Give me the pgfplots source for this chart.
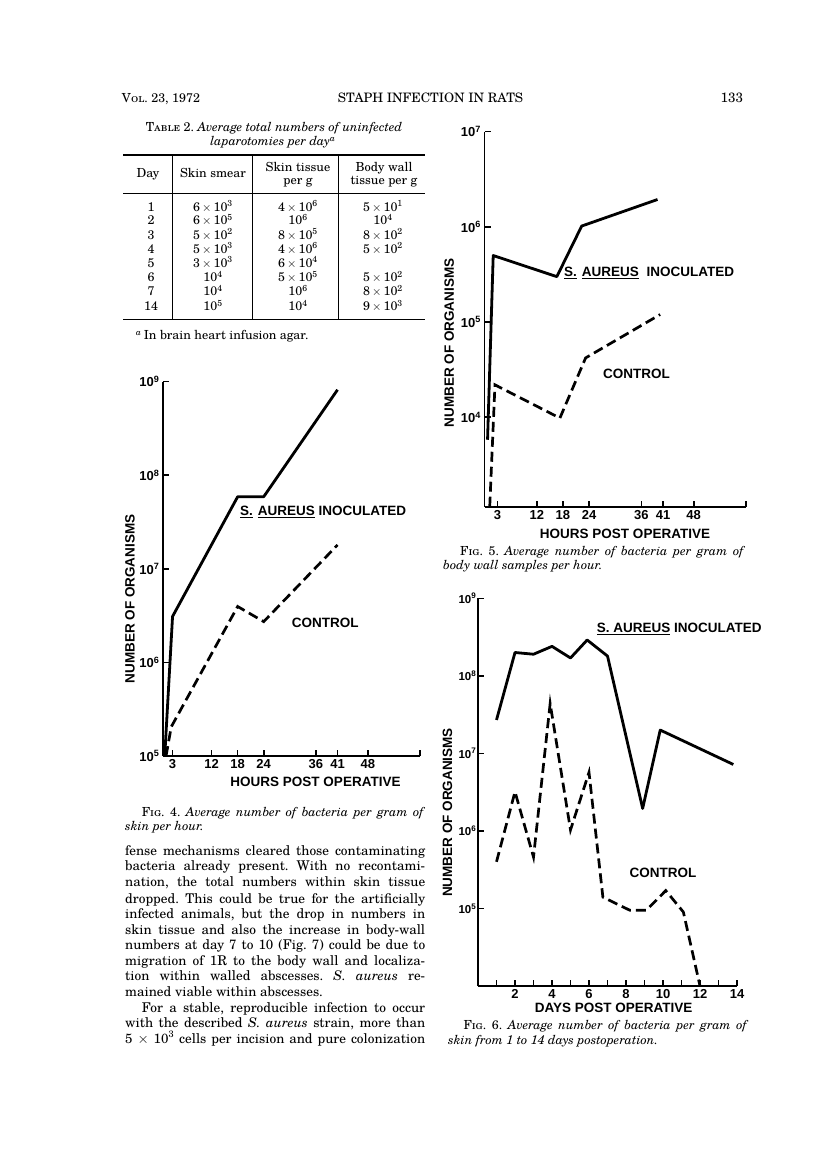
\documentclass[border=0pt]{standalone}
\usepackage{fontspec}
\setmainfont{TeX Gyre Schola}
\newfontfamily\lab{Liberation Sans}
\usepackage{pgfplots}
\pgfplotsset{compat=1.18}
\pgfplotsset{
  figax/.style={
    scale only axis, clip=false,
    axis x line*=bottom, axis y line*=left,
    axis line style={line width=1.8pt},
    every tick/.style={line width=1.6pt, black},
    major tick length=6pt,
    tick align=inside,
    yminorticks=false, xminorticks=false,
    tick label style={font=\lab\bfseries\fontsize{13}{13}\selectfont},
  },
  solidser/.style={black, line width=2.8pt, line join=round, no marks},
  dashser/.style={black, line width=2.7pt, dash pattern=on 10pt off 5pt, no marks},
}
\newcommand{\lblf}{\lab\bfseries\fontsize{13.5}{13.5}\selectfont}
\newcommand{\bodyf}{\fontsize{13.4}{15}\selectfont}
\newcommand{\capf}{\fontsize{12.5}{14}\selectfont}
\newcommand{\tabf}{\fontsize{12.5}{13}\selectfont}
\newcommand{\tx}[2]{#1\,$\times$\,10\textsuperscript{#2}}
\newcommand{\tp}[1]{10\textsuperscript{#1}}
\frenchspacing
\begin{document}
\frenchspacing
\begin{tikzpicture}
\path[use as bounding box, fill=white] (0pt,0pt) rectangle (816pt,-1172pt);

% ---------- Fig. 4 ----------
\begin{semilogyaxis}[figax, at={(163pt,-756pt)}, anchor=south west, width=257pt, height=374.3pt,
  xmin=0.8, xmax=60, ymin=1e5, ymax=1e9,
  xtick={3,12,18,24,36,41,48,60}, xticklabels={3,12,18,24,36,41,48,{}},
  ytick={1e5,1e6,1e7,1e8,1e9},
  yticklabels={10\textsuperscript{5},10\textsuperscript{6},10\textsuperscript{7},10\textsuperscript{8},10\textsuperscript{9}}]
\addplot[solidser] coordinates {(1.2,1e5)(3,3.1e6)(18,5.9e7)(24,5.9e7)(41,8.2e8)};
\addplot[dashser] coordinates {(1.5,1e5)(2.7,2.05e5)(18,3.96e6)(24,2.73e6)(41,1.8e7)};
\end{semilogyaxis}

% ---------- Fig. 5 ----------
\begin{semilogyaxis}[figax, at={(484.5pt,-506.7pt)}, anchor=south west, width=261.5pt, height=375pt,
  xmin=0, xmax=60, ymin=1148, ymax=1e7,
  xtick={3,12,18,24,36,41,48,60}, xticklabels={3,12,18,24,36,41,48,{}},
  ytick={1e4,1e5,1e6,1e7},
  yticklabels={10\textsuperscript{4},10\textsuperscript{5},10\textsuperscript{6},10\textsuperscript{7}}]
\addplot[solidser] coordinates {(0.7,5.8e3)(2.0,5.0e5)(16.6,3.0e5)(22.3,1.02e6)(39.7,1.94e6)};
\addplot[dashser] coordinates {(1.2,1148)(2.4,2.19e4)(17.3,9.8e3)(23.2,4.2e4)(40.3,1.2e5)};
\end{semilogyaxis}

% ---------- Fig. 6 ----------
\begin{semilogyaxis}[figax, at={(478pt,-986pt)}, anchor=south west, width=259pt, height=387.7pt,
  xmin=0, xmax=14, ymin=1e4, ymax=1e9,
  xtick={1,...,14}, xticklabels={{},2,{},4,{},6,{},8,{},10,{},12,{},14},
  ytick={1e5,1e6,1e7,1e8,1e9},
  yticklabel style={font=\lab\bfseries\fontsize{11.5}{12}\selectfont, inner sep=1.5pt},
  yticklabels={10\textsuperscript{5},10\textsuperscript{6},10\textsuperscript{7},10\textsuperscript{8},10\textsuperscript{9}}]
\addplot[solidser] coordinates {(1,2.7e7)(2,2.0e8)(3,1.9e8)(4,2.4e8)(5,1.7e8)(5.9,2.9e8)(7,1.8e8)(8.9,1.95e6)(9.85,2.0e7)(13.8,7.2e6)};
\addplot[dashser] coordinates {(1,4e5)(2,3.2e6)(3,4.6e5)(3.9,4.4e7)(5,1.03e6)(6,5.7e6)(6.75,1.4e5)(8.2,9.5e4)(9.1,9.5e4)(10.15,1.7e5)(11.1,9e4)(12,1e4)};
\end{semilogyaxis}

\begin{scope}[x=1pt,y=-1pt]
% ---------- header ----------
\node[anchor=base west, inner sep=0] at (121.7,102) {\fontsize{12.5}{14}\selectfont V\textsc{ol}. 23, 1972};
\node[anchor=base, inner sep=0] at (430.5,102) {\fontsize{13}{14}\selectfont STAPH INFECTION IN RATS};
\node[anchor=base east, inner sep=0] at (743.3,102) {\fontsize{13.5}{14}\selectfont 133};

% ---------- table ----------
\node[anchor=base, inner sep=0] at (274,131) {\capf T\textsc{able} 2. \textit{Average total numbers of uninfected}};
\node[anchor=base, inner sep=0] at (273,145.5) {\capf \textit{laparotomies per day}\textsuperscript{\textit{a}}};
\draw[line width=1.6pt] (123,155) -- (425,155);
\draw[line width=1pt] (123,193) -- (425,193);
\draw[line width=1.6pt] (123,319.3) -- (425,319.3);
\foreach \xx in {172,252,338} \draw[line width=0.9pt] (\xx,155) -- (\xx,319.3);
\node[anchor=base, inner sep=0] at (148,177.5) {\tabf Day};
\node[anchor=base, inner sep=0] at (213,177.5) {\tabf Skin smear};
\node[anchor=base, inner sep=0] at (298,171.5) {\tabf Skin tissue};
\node[anchor=base, inner sep=0] at (298,184.5) {\tabf per g};
\node[anchor=base, inner sep=0] at (384,171.5) {\tabf Body wall};
\node[anchor=base, inner sep=0] at (384,184.5) {\tabf tissue per g};
\foreach \yy/\d/\a/\b/\c in {
  211/1/\tx{6}{3}/\tx{4}{6}/\tx{5}{1},
  224.8/2/\tx{6}{5}/\tp{6}/\tp{4},
  239/3/\tx{5}{2}/\tx{8}{5}/\tx{8}{2},
  253/4/\tx{5}{3}/\tx{4}{6}/\tx{5}{2},
  267.3/5/\tx{3}{3}/\tx{6}{4}/{},
  281.6/6/\tp{4}/\tx{5}{5}/\tx{5}{2},
  295.6/7/\tp{4}/\tp{6}/\tx{8}{2},
  310.5/14/\tp{5}/\tp{4}/\tx{9}{3}} {
  \node[anchor=base, inner sep=0] at (151,\yy) {\tabf \d};
  \node[anchor=base, inner sep=0] at (213,\yy) {\tabf \a};
  \node[anchor=base, inner sep=0] at (298,\yy) {\tabf \b};
  \node[anchor=base, inner sep=0] at (383,\yy) {\tabf \c};
}
\node[anchor=base west, inner sep=0] at (136,339.5) {\capf \textsuperscript{\textit{a}}\,In brain heart infusion agar.};

% ---------- Fig. 4 texts ----------
\node[rotate=90, inner sep=0] at (130,599) {\lblf NUMBER OF ORGANISMS};
\node[inner sep=0] at (315.5,781.7) {\lblf HOURS POST OPERATIVE};
\node[anchor=west, inner sep=0] at (240,511.7) {\lblf \underline{S.}\hspace{5pt}\underline{AUREUS} INOCULATED};
\node[anchor=west, inner sep=0] at (291.7,623.3) {\lblf CONTROL};
\node[anchor=base west, inner sep=0] at (141.7,816.5) {\capf\frenchspacing\makebox[283.3pt][s]{F\textsc{ig}. 4. \textit{Average number of bacteria per gram of}}};
\node[anchor=base west, inner sep=0] at (125,830.5) {\capf\textit{skin per hour.}};

% ---------- body text ----------
\begin{scope}[every node/.style={anchor=base west, inner sep=0, font=\bodyf\frenchspacing}]
\node at (125,855.7) {\makebox[300pt][s]{fense mechanisms cleared those contaminating}};
\node at (125,870.7) {\makebox[300pt][s]{bacteria already present. With no recontami-}};
\node at (125,886.7) {\makebox[300pt][s]{nation, the total numbers within skin tissue}};
\node at (125,903) {\makebox[300pt][s]{dropped. This could be true for the artificially}};
\node at (125,918.7) {\makebox[300pt][s]{infected animals, but the drop in numbers in}};
\node at (125,934.3) {\makebox[300pt][s]{skin tissue and also the increase in body-wall}};
\node at (125,949.7) {\makebox[300pt][s]{numbers at day 7 to 10 (Fig. 7) could be due to}};
\node at (125,965.3) {\makebox[300pt][s]{migration of 1R to the body wall and localiza-}};
\node at (125,980.7) {\makebox[300pt][s]{tion within walled abscesses. \textit{S. aureus} re-}};
\node at (125,996.3) {mained viable within abscesses.};
\node at (141.7,1012.3) {\makebox[283.3pt][s]{For a stable, reproducible infection to occur}};
\node at (125,1027.7) {\makebox[300pt][s]{with the described \textit{S. aureus} strain, more than}};
\node at (125,1043) {\makebox[300pt][s]{5 $\times$ 10\textsuperscript{3} cells per incision and pure colonization}};
\end{scope}

% ---------- Fig. 5 texts ----------
\node[rotate=90, inner sep=0] at (449.3,343) {\lblf NUMBER OF ORGANISMS};
\node[inner sep=0] at (625,534) {\lblf HOURS POST OPERATIVE};
\node[anchor=west, inner sep=0] at (564,272.7) {\lblf \underline{S.}\hspace{5pt}\underline{AUREUS}\hspace{4pt} INOCULATED};
\node[anchor=west, inner sep=0] at (603,374) {\lblf CONTROL};
\node[anchor=base west, inner sep=0] at (460,555) {\capf\frenchspacing\makebox[285pt][s]{F\textsc{ig}. 5. \textit{Average number of bacteria per gram of}}};
\node[anchor=base west, inner sep=0] at (443,569) {\capf\textit{body wall samples per hour.}};

% ---------- Fig. 6 texts ----------
\node[rotate=90, inner sep=0] at (447.5,812.5) {\lblf NUMBER OF ORGANISMS};
\node[inner sep=0] at (613.7,1007.7) {\lblf DAYS POST OPERATIVE};
\node[anchor=west, inner sep=0] at (596.7,629.3) {\lblf \underline{S. AUREUS} INOCULATED};
\node[anchor=west, inner sep=0] at (629.3,873.3) {\lblf CONTROL};
\node[anchor=base west, inner sep=0] at (463.3,1029) {\capf\frenchspacing\makebox[285pt][s]{F\textsc{ig}. 6. \textit{Average number of bacteria per gram of}}};
\node[anchor=base west, inner sep=0] at (448,1044) {\capf\textit{skin from 1 to 14 days postoperation.}};
\end{scope}
\end{tikzpicture}
\end{document}
